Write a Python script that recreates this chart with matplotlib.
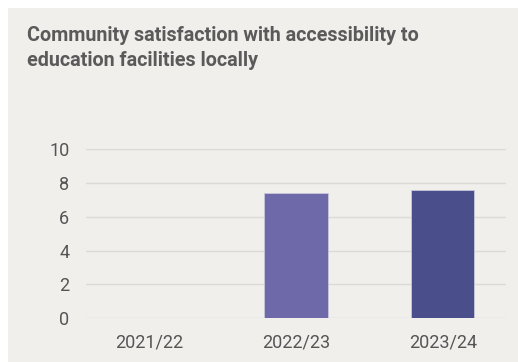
import matplotlib
matplotlib.use("Agg")
import matplotlib.pyplot as plt

title = "Community satisfaction with accessibility to\neducation facilities locally"
categories = ["2021/22", "2022/23", "2023/24"]
values = [0.0, 7.4, 7.6]
bar_colors = ["#6e69a8", "#6e69a8", "#4a4e8a"]
y_ticks = [0, 2, 4, 6, 8, 10]

bg = "#f0efec"
text_col = "#5a5a5a"

W, H, DPI = 518, 362, 100
fig = plt.figure(figsize=(W / DPI, H / DPI), dpi=DPI)
fig.patch.set_facecolor("white")

# light panel behind the whole chart
panel = fig.add_axes([8 / W, 0, 1 - 8 / W, 1 - 8 / H], zorder=-10)
panel.set_facecolor(bg)
panel.set_xticks([])
panel.set_yticks([])
for s in panel.spines.values():
    s.set_visible(False)

fig.text(27 / W, 1 - 26 / H, title, ha="left", va="top", fontsize=14.2,
         fontweight="bold", color=text_col, family="Roboto",
         linespacing=1.4)

ax = fig.add_axes([86 / W, 1 - 318.3 / H, (506 - 86) / W, (318.3 - 149) / H])
ax.set_facecolor("none")
x = list(range(len(categories)))
ax.bar(x, values, width=0.43, color=bar_colors, edgecolor="#c9c7dc",
       linewidth=0.6, zorder=3)
ax.set_xlim(-0.43, 2.43)
ax.set_ylim(0, 10)
ax.set_yticks(y_ticks)
ax.set_yticklabels([str(t) for t in y_ticks])
ax.set_xticks(x)
ax.set_xticklabels(categories)
ax.grid(axis="y", color="#dcdad6", linewidth=1.0, zorder=0)
for s in ax.spines.values():
    s.set_visible(False)
ax.tick_params(length=0, labelsize=13, labelcolor="#555555")
ax.tick_params(axis="y", pad=12)
ax.tick_params(axis="x", pad=11)
for lab in ax.get_xticklabels() + ax.get_yticklabels():
    lab.set_family("Roboto")

fig.savefig("out.png", dpi=DPI, facecolor=fig.get_facecolor())
